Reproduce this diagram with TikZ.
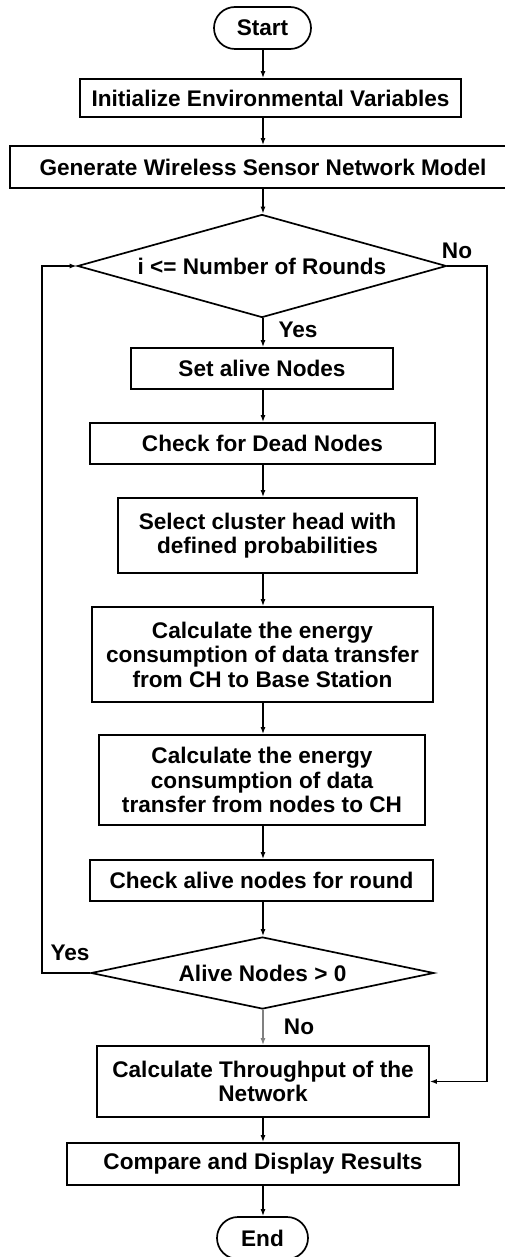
\documentclass[tikz,border=0pt]{standalone}
\usepackage{fontspec}
\setmainfont{Liberation Sans}
\usetikzlibrary{shapes.geometric,arrows.meta}

\begin{document}
\begin{tikzpicture}[x=1pt,y=-1pt,
    box/.style={draw, line width=1.7pt, inner sep=0pt, align=center},
    term/.style={box, rounded corners=21pt},
    decide/.style={draw, diamond, line width=1.7pt, inner sep=0pt},
    arr/.style={line width=1.5pt, -{Latex[length=7pt,width=5pt]}},
    lbl/.style={inner sep=0pt},
    font=\fontsize{22.6}{24.5}\selectfont\bfseries]
    \useasboundingbox (0,0) rectangle (505,1257);

    %boxes
    \node[term, minimum width=97, minimum height=42] (start) at (262.5,28) {Start};
    \node[box, minimum width=381, minimum height=38] (init) at (270.5,98) {Initialize Environmental Variables};
    \node[box, minimum width=506, minimum height=42] (gen) at (263,167) {Generate Wireless Sensor Network Model};
    \node[decide, aspect=3.58, minimum width=369, minimum height=103] (dec1) at (262,266) {i <= Number of Rounds};
    \node[box, minimum width=262, minimum height=41] (alive) at (262,368.5) {Set alive Nodes};
    \node[box, minimum width=345, minimum height=41] (dead) at (262.5,443.5) {Check for Dead Nodes};
    \node[box, minimum width=299, minimum height=75] (select) at (267.5,535.5) {Select cluster head with\\defined probabilities};
    \node[box, minimum width=341, minimum height=95] (calc1) at (262.5,654.5) {Calculate the energy\\consumption of data transfer\\from CH to Base Station};
    \node[box, minimum width=326, minimum height=90] (calc2) at (262,780) {Calculate the energy\\consumption of data\\transfer from nodes to CH};
    \node[box, minimum width=343, minimum height=41] (chk) at (261.5,880.5) {Check alive nodes for round};
    \node[decide, aspect=4.76, minimum width=343, minimum height=72] (dec2) at (262.5,973) {Alive Nodes > 0};
    \node[box, minimum width=332, minimum height=71] (thr) at (263,1081.5) {Calculate Throughput of the\\Network};
    \node[box, minimum width=392, minimum height=42] (cmp) at (263,1164) {Compare and Display Results};
    \node[term, minimum width=91, minimum height=42] (end) at (262.5,1238) {End};

    %arrows
    \coordinate (trunk) at (263,0);
    \coordinate (noX) at (487,0);
    \coordinate (yesX) at (42,0);
    \foreach \a/\b in {start/init, init/gen, gen/dec1, dec1/alive, alive/dead, dead/select,
        select/calc1, calc1/calc2, calc2/chk, chk/dec2, thr/cmp, cmp/end}
        \draw[arr] (trunk |- \a.south) -- (trunk |- \b.north);
    \draw[arr, gray] (trunk |- dec2.south) -- (trunk |- thr.north);
    \draw[arr] (dec1.east) -| (noX |- thr.east) -- (thr.east);
    \draw[arr] (dec2.west) -| (yesX |- dec1.west) -- (dec1.west);

    %labels
    \node[lbl] (no1) at (457,251) {No};
    \node[lbl] (yes1) at (298,330) {Yes};
    \node[lbl] (yes2) at (70,953) {Yes};
    \node[lbl] (no2) at (299,1027) {No};

\end{tikzpicture}
\end{document}
